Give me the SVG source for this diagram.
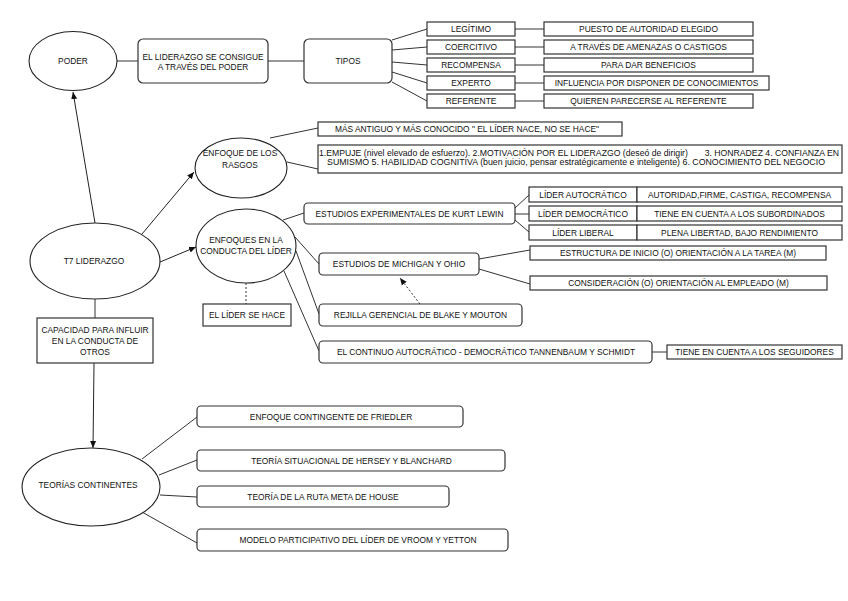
<svg xmlns="http://www.w3.org/2000/svg" width="848" height="601" viewBox="0 0 848 601">
<defs>
<style>
text{font-family:"Liberation Sans",Arial,sans-serif;font-size:8.4px;fill:#111;text-anchor:middle}
.sq{fill:#fff;stroke:#333;stroke-width:1.2}
.rd{fill:#fff;stroke:#333;stroke-width:1.2}
.el{fill:#fff;stroke:#222;stroke-width:1.1}
.ln{fill:none;stroke:#333;stroke-width:1}
.ar{fill:none;stroke:#222;stroke-width:1;marker-end:url(#ah)}
.da{fill:none;stroke:#333;stroke-width:1;stroke-dasharray:2,2}
.dar{fill:none;stroke:#333;stroke-width:1;stroke-dasharray:2,2;marker-end:url(#ah)}
</style>
<marker id="ah" markerWidth="8" markerHeight="8" refX="7" refY="4" orient="auto" markerUnits="userSpaceOnUse">
<path d="M0,1 L7,4 L0,7 Z" fill="#111"/>
</marker>
</defs>
<rect width="848" height="601" fill="#fff"/>

<g id="connectors">
<line class="ln" x1="117" y1="61" x2="138" y2="61"/>
<line class="ln" x1="268" y1="61" x2="304" y2="61"/>
<line class="ln" x1="392" y1="40" x2="427" y2="29"/>
<line class="ln" x1="392" y1="50" x2="427" y2="47"/>
<line class="ln" x1="392" y1="62" x2="427" y2="65"/>
<line class="ln" x1="392" y1="72" x2="427" y2="83"/>
<line class="ln" x1="392" y1="82" x2="427" y2="101"/>
<line class="ln" x1="515" y1="29" x2="544" y2="29"/>
<line class="ln" x1="515" y1="47" x2="544" y2="47"/>
<line class="ln" x1="515" y1="65" x2="544" y2="65"/>
<line class="ln" x1="515" y1="83" x2="544" y2="83"/>
<line class="ln" x1="515" y1="101" x2="544" y2="101"/>
<line class="ar" x1="95" y1="223" x2="73" y2="92"/>
<line class="ar" x1="142" y1="234" x2="194" y2="172"/>
<line class="ar" x1="160" y1="262" x2="196" y2="247"/>
<line class="ln" x1="95" y1="299" x2="95" y2="318"/>
<line class="ar" x1="94" y1="363" x2="93" y2="448"/>
<line class="ln" x1="270" y1="138" x2="318" y2="128"/>
<line class="ln" x1="287" y1="162" x2="318" y2="169"/>
<line class="ln" x1="283" y1="220" x2="304" y2="213"/>
<line class="ln" x1="295" y1="237" x2="319" y2="264"/>
<line class="ln" x1="296" y1="251" x2="319" y2="314"/>
<line class="ln" x1="284" y1="271" x2="319" y2="351"/>
<line class="da" x1="246" y1="283" x2="246" y2="304"/>
<line class="dar" x1="420" y1="304" x2="400" y2="278"/>
<line class="ln" x1="515" y1="208" x2="529" y2="195"/>
<line class="ln" x1="515" y1="214" x2="529" y2="214"/>
<line class="ln" x1="515" y1="220" x2="529" y2="232"/>
<line class="ln" x1="479" y1="259" x2="530" y2="250"/>
<line class="ln" x1="479" y1="269" x2="530" y2="284"/>
<line class="ln" x1="652" y1="352" x2="667" y2="352"/>
<line class="ln" x1="142" y1="459" x2="197" y2="417"/>
<line class="ln" x1="159" y1="475" x2="197" y2="460"/>
<line class="ln" x1="160" y1="495" x2="197" y2="497"/>
<line class="ln" x1="142" y1="512" x2="197" y2="543"/>
</g>

<g id="poder"><ellipse class="el" cx="73" cy="61" rx="44" ry="29.5"/><text x="73" y="64">PODER</text></g>
<g id="consigue"><rect class="rd" x="138" y="39" width="130" height="44" rx="5"/><text x="203" y="59.5">EL LIDERAZGO SE CONSIGUE</text><text x="203" y="70">A TRAVÉS DEL PODER</text></g>
<g id="tipos"><rect class="rd" x="304" y="39" width="88" height="44" rx="5"/><text x="348" y="64">TIPOS</text></g>

<g id="legitimo"><rect class="sq" x="427" y="22" width="88" height="14"/><text x="471" y="32">LEGÍTIMO</text></g>
<g id="coercitivo"><rect class="sq" x="427" y="40" width="88" height="14"/><text x="471" y="50">COERCITIVO</text></g>
<g id="recompensa"><rect class="sq" x="427" y="58" width="88" height="14"/><text x="471" y="68">RECOMPENSA</text></g>
<g id="experto"><rect class="sq" x="427" y="76" width="88" height="14"/><text x="471" y="86">EXPERTO</text></g>
<g id="referente"><rect class="sq" x="427" y="94" width="88" height="14"/><text x="471" y="104">REFERENTE</text></g>
<g id="d-legitimo"><rect class="sq" x="544" y="22" width="209" height="14"/><text x="648.5" y="32">PUESTO DE AUTORIDAD ELEGIDO</text></g>
<g id="d-coercitivo"><rect class="sq" x="544" y="40" width="209" height="14"/><text x="648.5" y="50">A TRAVÉS DE AMENAZAS O CASTIGOS</text></g>
<g id="d-recompensa"><rect class="sq" x="544" y="58" width="209" height="14"/><text x="648.5" y="68">PARA DAR BENEFICIOS</text></g>
<g id="d-experto"><rect class="sq" x="544" y="76" width="225" height="14"/><text x="656.5" y="86">INFLUENCIA POR DISPONER DE CONOCIMIENTOS</text></g>
<g id="d-referente"><rect class="sq" x="544" y="94" width="209" height="14"/><text x="648.5" y="104">QUIEREN PARECERSE AL REFERENTE</text></g>

<g id="rasgos"><ellipse class="el" cx="241" cy="168" rx="46" ry="30"/><text x="240" y="156">ENFOQUE DE LOS</text><text x="240" y="168">RASGOS</text></g>
<g id="antiguo"><rect class="sq" x="318" y="122" width="304" height="14"/><text x="467" y="132">MÁS ANTIGUO Y MÁS CONOCIDO " EL LÍDER NACE, NO SE HACE"</text></g>
<g id="rasgos-lista"><rect class="sq" x="318" y="145" width="524" height="28"/>
<text x="579" y="156" textLength="520" lengthAdjust="spacingAndGlyphs">1.EMPUJE (nivel elevado de esfuerzo). 2.MOTIVACIÓN POR EL LIDERAZGO (deseó de dirigir)&#160;&#160;&#160;&#160;&#160;&#160; 3. HONRADEZ 4. CONFIANZA EN</text>
<text x="576" y="165" textLength="498" lengthAdjust="spacingAndGlyphs">SUMISMO 5. HABILIDAD COGNITIVA (buen juicio, pensar estratégicamente e inteligente) 6. CONOCIMIENTO DEL NEGOCIO</text></g>

<g id="t7"><ellipse class="el" cx="95" cy="261" rx="65" ry="38"/><text x="94" y="264">T7 LIDERAZGO</text></g>
<g id="conducta"><ellipse class="el" cx="246" cy="246" rx="50" ry="37"/><text x="246" y="243">ENFOQUES EN LA</text><text x="246" y="254">CONDUCTA DEL LÍDER</text></g>
<g id="se-hace"><rect class="sq" x="203" y="304" width="88" height="22"/><text x="247" y="318">EL LÍDER SE HACE</text></g>
<g id="capacidad"><rect class="sq" x="37" y="318" width="116" height="45"/><text x="95" y="333">CAPACIDAD PARA INFLUIR</text><text x="95" y="344">EN LA CONDUCTA DE</text><text x="95" y="355">OTROS</text></g>

<g id="lewin"><rect class="rd" x="304" y="203" width="211" height="21" rx="4"/><text x="409.5" y="216.5">ESTUDIOS EXPERIMENTALES DE KURT LEWIN</text></g>
<g id="michigan"><rect class="rd" x="319" y="253" width="160" height="22" rx="4"/><text x="399" y="267">ESTUDIOS DE MICHIGAN Y OHIO</text></g>
<g id="rejilla"><rect class="rd" x="319" y="304" width="203" height="22" rx="4"/><text x="420.5" y="318">REJILLA GERENCIAL DE BLAKE Y MOUTON</text></g>
<g id="continuo"><rect class="rd" x="319" y="341" width="333" height="22" rx="4"/><text x="486" y="355">EL CONTINUO AUTOCRÁTICO - DEMOCRÁTICO TANNENBAUM Y SCHMIDT</text></g>

<g id="autocratico"><rect class="sq" x="529" y="187" width="108" height="15"/><text x="583" y="197.5">LÍDER AUTOCRÁTICO</text></g>
<g id="democratico"><rect class="sq" x="529" y="206" width="108" height="15"/><text x="583" y="216.5">LÍDER DEMOCRÁTICO</text></g>
<g id="liberal"><rect class="sq" x="529" y="225" width="108" height="15"/><text x="583" y="235.5">LÍDER LIBERAL</text></g>
<g id="d-autocratico"><rect class="sq" x="637" y="187" width="205" height="15"/><text x="739.5" y="197.5">AUTORIDAD,FIRME, CASTIGA, RECOMPENSA</text></g>
<g id="d-democratico"><rect class="sq" x="637" y="206" width="205" height="15"/><text x="739.5" y="216.5">TIENE EN CUENTA A LOS SUBORDINADOS</text></g>
<g id="d-liberal"><rect class="sq" x="637" y="225" width="205" height="15"/><text x="739.5" y="235.5">PLENA LIBERTAD, BAJO RENDIMIENTO</text></g>
<g id="estructura"><rect class="sq" x="530" y="246" width="296" height="14"/><text x="678" y="256">ESTRUCTURA DE INICIO (O) ORIENTACIÓN A LA TAREA (M)</text></g>
<g id="consideracion"><rect class="sq" x="530" y="276" width="297" height="14"/><text x="678.5" y="286">CONSIDERACIÓN (O) ORIENTACIÓN AL EMPLEADO (M)</text></g>
<g id="seguidores"><rect class="sq" x="667" y="345" width="175" height="14"/><text x="754.5" y="355">TIENE EN CUENTA A LOS SEGUIDORES</text></g>

<g id="teorias"><ellipse class="el" cx="91" cy="487" rx="69" ry="39"/><text x="88" y="488">TEORÍAS CONTINENTES</text></g>
<g id="friedler"><rect class="rd" x="197" y="406" width="266" height="21" rx="4"/><text x="331" y="419.5">ENFOQUE CONTINGENTE DE FRIEDLER</text></g>
<g id="hersey"><rect class="rd" x="197" y="450" width="308" height="21" rx="4"/><text x="351.5" y="463.5">TEORÍA SITUACIONAL DE HERSEY Y BLANCHARD</text></g>
<g id="house"><rect class="rd" x="197" y="486" width="252" height="21" rx="4"/><text x="323" y="499.5">TEORÍA DE LA RUTA META DE HOUSE</text></g>
<g id="vroom"><rect class="rd" x="197" y="529" width="311" height="22" rx="4"/><text x="358" y="543">MODELO PARTICIPATIVO DEL LÍDER DE VROOM Y YETTON</text></g>
</svg>
